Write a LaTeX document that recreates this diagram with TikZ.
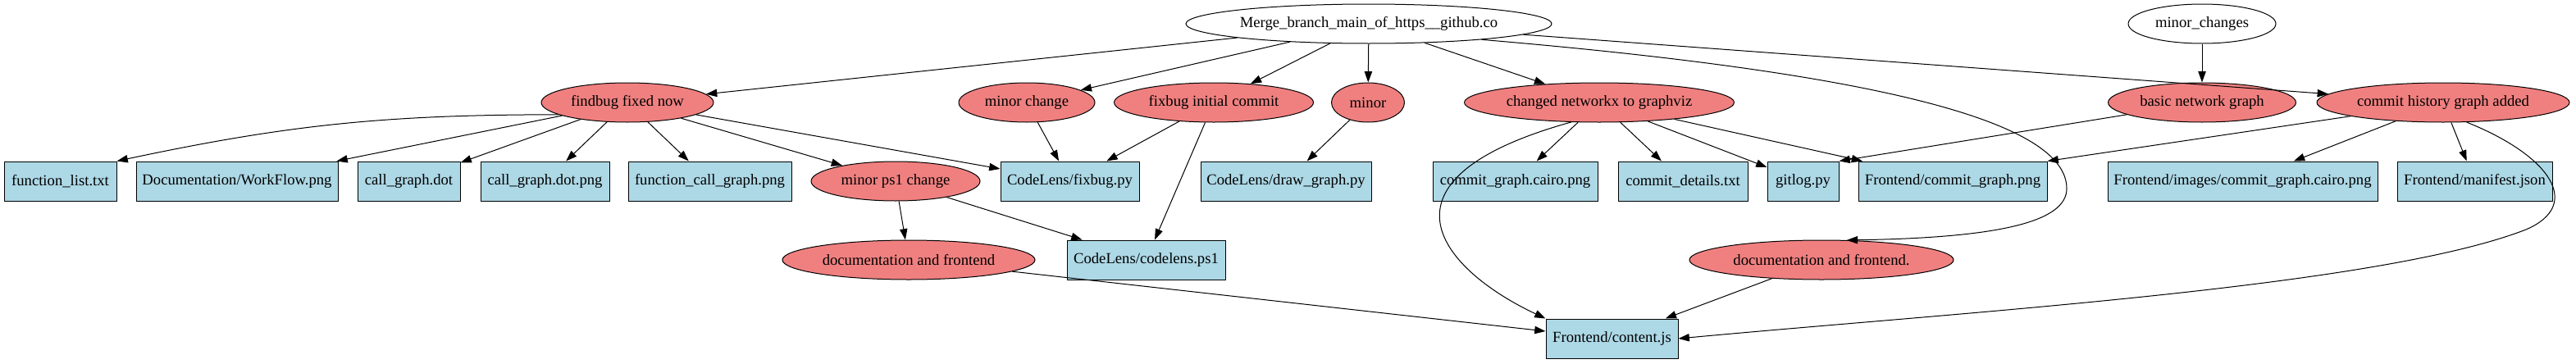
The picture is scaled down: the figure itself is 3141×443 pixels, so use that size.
\documentclass[tikz,border=0pt]{standalone}
\usepackage{fontspec}
\setmainfont{Liberation Serif}
\usetikzlibrary{arrows.meta,shapes.geometric}
\definecolor{Coral}{HTML}{F08080}
\definecolor{LightBlue}{HTML}{ADD8E6}

\begin{document}
\begin{tikzpicture}[x=0.75pt,y=-0.75pt,
  plain/.style={ellipse,draw,line width=0.75pt,fill=white,inner sep=0pt,minimum height=36pt,font=\fontsize{14}{16}\selectfont},
  commit/.style={plain,fill=Coral},
  file/.style={rectangle,draw,line width=0.75pt,fill=LightBlue,inner sep=0pt,minimum height=36pt,font=\fontsize{14}{16}\selectfont},
  wd/.style={minimum width=#1*0.75pt},
  edge/.style={-{Triangle[length=10pt,width=7pt]},line width=0.75pt}
]
\useasboundingbox (0,0) rectangle (3141,443);
% top row
\node[plain,wd=446] (merge) at (1669,29) {Merge\_branch\_main\_of\_https\_\_github.co};
\node[plain,wd=180] (minorchanges) at (2685,29) {minor\_changes};
% commits
\node[commit,wd=210] (findbug) at (765,125) {findbug fixed now};
\node[commit,wd=166] (minorchange) at (1252,125) {minor change};
\node[commit,wd=243] (fixbuginit) at (1480,125) {fixbug initial commit};
\node[commit,wd=89] (minor) at (1668,125) {minor};
\node[commit,wd=329] (networkx) at (1950,125) {changed networkx to graphviz};
\node[commit,wd=229] (basicnet) at (2685,125) {basic network graph};
\node[commit,wd=308] (history) at (2979,125) {commit history graph added};
% files
\node[file,wd=137] (flist) at (73.5,221) {function\_list.txt};
\node[file,wd=246] (workflow) at (289,221) {Documentation/WorkFlow.png};
\node[file,wd=125] (cgdot) at (498.5,221) {call\_graph.dot};
\node[file,wd=157] (cgdotpng) at (664.5,221) {call\_graph.dot.png};
\node[file,wd=199] (fcgpng) at (865.5,221) {function\_call\_graph.png};
\node[commit,wd=206] (minorps1) at (1092,221) {minor ps1 change};
\node[file,wd=169] (fixbugpy) at (1304.5,221) {CodeLens/fixbug.py};
\node[file,wd=208] (drawgraph) at (1568,221) {CodeLens/draw\_graph.py};
\node[file,wd=201] (cairopng) at (1847.5,221) {commit\_graph.cairo.png};
\node[file,wd=158] (details) at (2052,221) {commit\_details.txt};
\node[file,wd=87] (gitlog) at (2198.5,221) {gitlog.py};
\node[file,wd=230] (commitpng) at (2381,221) {Frontend/commit\_graph.png};
\node[file,wd=329] (imgcairo) at (2734.5,221) {Frontend/images/commit\_graph.cairo.png};
\node[file,wd=189] (manifest) at (3017.5,221) {Frontend/manifest.json};
\node[commit,wd=308] (docfront) at (1108,317) {documentation and frontend};
\node[file,wd=193] (codelens) at (1397.5,317) {CodeLens/codelens.ps1};
\node[commit,wd=322] (docfront2) at (2221,317) {documentation and frontend.};
\node[file,wd=161] (content) at (1965.5,413) {Frontend/content.js};

% edges
\draw[edge] (merge) -- (findbug);
\draw[edge] (merge) -- (minorchange);
\draw[edge] (merge) -- (fixbuginit);
\draw[edge] (merge) -- (minor);
\draw[edge] (merge) -- (networkx);
\draw[edge] (merge.-4) -- (history);
\draw[edge] (merge.-8) .. controls (2300,90) and (2520,150) .. (2520,230)
  .. controls (2520,270) and (2440,290) .. (docfront2.38);
\draw[edge] (minorchanges) -- (basicnet);
\draw[edge] (findbug.190) to[bend right=6] (flist.north east);
\draw[edge] (findbug) -- (workflow);
\draw[edge] (findbug) -- (cgdot);
\draw[edge] (findbug) -- (cgdotpng);
\draw[edge] (findbug) -- (fcgpng);
\draw[edge] (findbug) -- (minorps1);
\draw[edge] (findbug) -- (fixbugpy);
\draw[edge] (minorchange) -- (fixbugpy);
\draw[edge] (fixbuginit) -- (fixbugpy);
\draw[edge] (fixbuginit) -- (codelens);
\draw[edge] (minor) -- (drawgraph);
\draw[edge] (minorps1) -- (docfront);
\draw[edge] (minorps1) -- (codelens);
\draw[edge] (docfront) -- (content);
\draw[edge] (networkx) -- (cairopng);
\draw[edge] (networkx) -- (details);
\draw[edge] (networkx) -- (gitlog);
\draw[edge] (networkx) -- (commitpng);
\draw[edge] (networkx.215) .. controls (1660,220) and (1760,330) .. (content.north west);
\draw[edge] (basicnet) -- (gitlog.north east);
\draw[edge] (history) -- (commitpng.north east);
\draw[edge] (history) -- (imgcairo);
\draw[edge] (history) -- (manifest);
\draw[edge] (history.-40) .. controls (3110,190) and (3150,250) .. (3080,280)
  .. controls (2900,350) and (2400,380) .. (content.east);
\draw[edge] (docfront2) -- (content);
\end{tikzpicture}
\end{document}
